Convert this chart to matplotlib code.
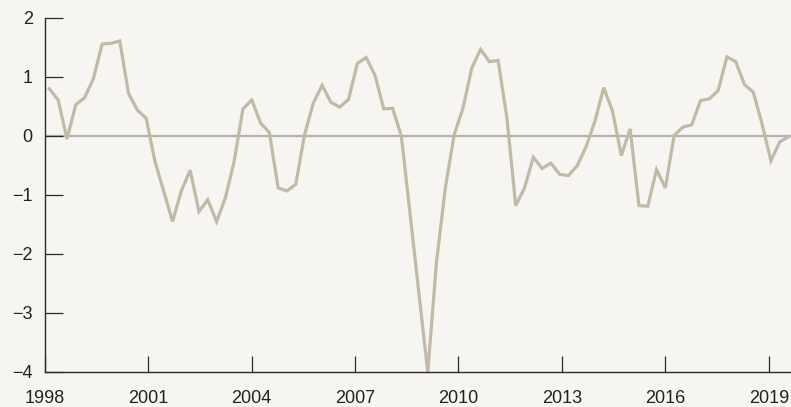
import matplotlib.pyplot as plt
import numpy as np

# Data (one point per period) ---------------------------------------
values = [0.80, 0.61, -0.05, 0.53, 0.65, 0.97, 1.56, 1.57, 1.61, 0.72,
          0.44, 0.30, -0.43, -0.94, -1.45, -0.93, -0.58, -1.28, -1.08, -1.45,
          -1.05, -0.43, 0.46, 0.61, 0.22, 0.06, -0.88, -0.93, -0.82, 0.02,
          0.56, 0.86, 0.57, 0.49, 0.62, 1.23, 1.33, 1.03, 0.46, 0.47,
          0.00, -1.33, -2.67, -4.00, -2.13, -0.88, 0.02, 0.47, 1.15, 1.47,
          1.26, 1.28, 0.30, -1.18, -0.88, -0.36, -0.55, -0.46, -0.65, -0.67,
          -0.50, -0.18, 0.25, 0.82, 0.42, -0.33, 0.12, -1.18, -1.19, -0.57,
          -0.88, 0.01, 0.15, 0.19, 0.60, 0.63, 0.77, 1.34, 1.26, 0.87,
          0.74, 0.20, -0.42, -0.10, -0.01]
x_ticks = [1998, 2001, 2004, 2007, 2010, 2013, 2016, 2019]
y_ticks = [-4, -3, -2, -1, 0, 1, 2]

years = 1998.14 + 0.2551 * np.arange(len(values))

# Style -------------------------------------------------------------
bg = "#f6f5f1"
line_col = "#c0baa6"
zero_col = "#b4b2ac"
dark = "#2b2b2b"

plt.rcParams['font.family'] = ['Liberation Sans', 'DejaVu Sans']

fig = plt.figure(figsize=(7.91, 4.07), dpi=100, facecolor=bg)
ax = fig.add_axes([0.0563, 0.086, 0.9437, 0.8698])
ax.set_facecolor(bg)

ax.axhline(0, color=zero_col, lw=1.6, zorder=1)
ax.plot(years, values, color=line_col, lw=2.3, zorder=2,
        solid_joinstyle='miter', clip_on=False)

ax.set_xlim(1998, 2019.64)
ax.set_ylim(-4, 2)
ax.set_xticks(x_ticks)
ax.set_yticks(y_ticks)

for s in ['top', 'right']:
    ax.spines[s].set_visible(False)
for s in ['left', 'bottom']:
    ax.spines[s].set_color(dark)
    ax.spines[s].set_linewidth(1.0)

ax.tick_params(axis='x', direction='in', length=11.5, width=0.9,
               color=dark, labelsize=13, labelcolor="#222222", pad=13)
ax.tick_params(axis='y', direction='in', length=13, width=0.9,
               color=dark, labelsize=13, labelcolor="#222222", pad=8.5)

fig.savefig("out.png", dpi=100, facecolor=bg)
